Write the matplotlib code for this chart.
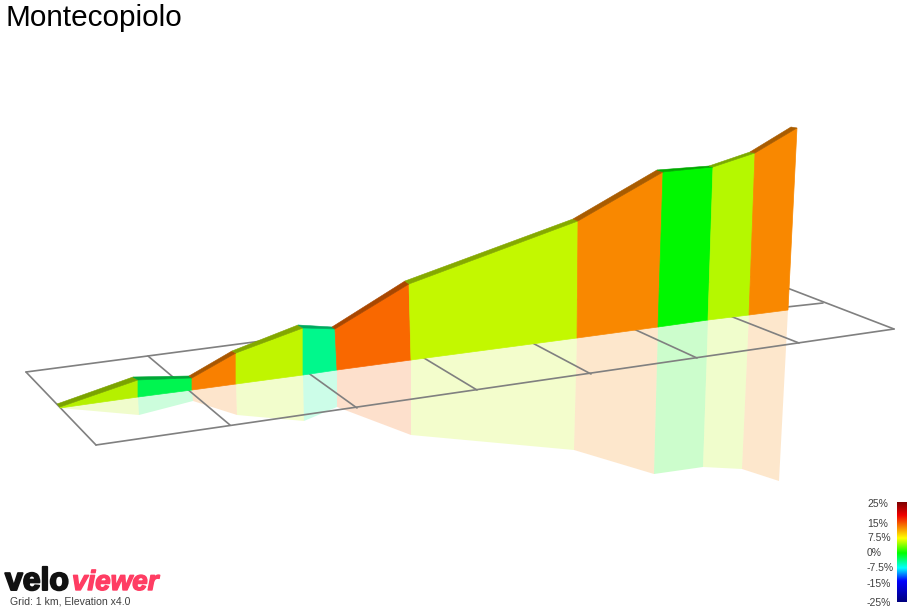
import matplotlib
matplotlib.use("Agg")
import matplotlib.pyplot as plt
import matplotlib.patheffects as pe
from matplotlib.colors import LinearSegmentedColormap, to_rgb
from matplotlib.patches import Polygon
import numpy as np

plt.rcParams['font.family'] = ['Liberation Sans', 'DejaVu Sans']

title = "Montecopiolo"
footer = "Grid: 1 km, Elevation x4.0"

# projected profile, in picture pixels
front_x = [60, 138, 192, 236, 303, 335, 409, 578, 663, 713, 755, 797]
front_y = [407, 380, 378, 353, 328, 329, 284, 221, 172, 167, 153, 128]
back_x = [57, 133, 189, 232, 298, 332, 405, 573, 657, 709, 750, 791]
back_y = [404, 377, 376, 351, 325, 327, 281, 219, 170, 166, 152, 127]
base_x = [60, 138, 192, 236, 303, 337, 411, 577, 658, 708, 749, 788]
base_y = [408, 397, 390, 384, 375, 370, 360, 338, 327, 320, 315, 310]
refl_x = [60, 139, 193, 237, 304, 337, 411, 574, 654, 703, 742, 779]
refl_y = [408, 415, 401, 415, 421, 407, 435, 450, 474, 467, 469, 481]
seg_colors = ['#b5f000', '#00f550', '#f98000', '#c0f500', '#00f88c', '#f96800',
              '#c3f800', '#f98800', '#00f800', '#b5f800', '#f98800']

grid_lines = [
    ((26, 372), (96, 445)),
    ((96, 445), (894, 329)),
    ((26, 372), (756, 276)),
    ((756, 276), (894, 329)),
    ((750, 311), (823, 303)),
    ((148, 356), (230, 425)),
    ((300, 367), (357, 408)),
    ((414, 352), (477, 390)),
    ((525, 339), (591, 374)),
    ((625, 325), (697, 358)),
    ((725, 314), (799, 343)),
]

bar_labels = ['25%', '15%', '7.5%', '0%', '-7.5%', '-15%', '-25%']
bar_label_y = [504, 524, 538, 553, 568, 584, 603]
bar_stops = [0.0, 0.13, 0.36, 0.51, 0.66, 0.79, 1.0]
bar_colors = ['#7d0000', '#f00000', '#ffff00', '#00ff00', '#00ffff', '#0000ff', '#00007d']

fig = plt.figure(figsize=(9.07, 6.07), dpi=100)
ax = fig.add_axes([0, 0, 1, 1])
ax.set_xlim(0, 907)
ax.set_ylim(607, 0)
ax.axis('off')

n = len(seg_colors)
# reflection
for i in range(n):
    ax.add_patch(Polygon([(base_x[i], base_y[i]), (base_x[i+1], base_y[i+1]),
                          (refl_x[i+1], refl_y[i+1]), (refl_x[i], refl_y[i])],
                         closed=True, facecolor=seg_colors[i], edgecolor='none',
                         alpha=0.2, zorder=1))
# grid
for a, b in grid_lines:
    ax.plot([a[0], b[0]], [a[1], b[1]], color='#808080', lw=1.2, zorder=2,
            solid_capstyle='round')
# walls and ridge
for i in range(n):
    c = seg_colors[i]
    ax.add_patch(Polygon([(front_x[i], front_y[i]), (front_x[i+1], front_y[i+1]),
                          (base_x[i+1], base_y[i+1]), (base_x[i], base_y[i])],
                         closed=True, facecolor=c, edgecolor=c, lw=0.5, zorder=3))
    dark = tuple(v * 0.68 for v in to_rgb(c))
    ax.add_patch(Polygon([(back_x[i], back_y[i]), (back_x[i+1], back_y[i+1]),
                          (front_x[i+1], front_y[i+1]), (front_x[i], front_y[i])],
                         closed=True, facecolor=dark, edgecolor=dark, lw=0.4, zorder=4))

# colour bar
cmap = LinearSegmentedColormap.from_list('grade', list(zip(bar_stops, bar_colors)))
ax.imshow(np.linspace(0, 1, 256)[:, None], cmap=cmap, aspect='auto',
          extent=(897, 907, 602, 502), zorder=3)
ax.set_xlim(0, 907)
ax.set_ylim(607, 0)
for lab, y in zip(bar_labels, bar_label_y):
    ax.text(867, y, lab, fontsize=7.5, color='#404040', ha='left', va='center')

ax.text(5, 18, title, fontsize=21.4, color='black', ha='left', va='center')
ax.text(10, 601.5, footer, fontsize=7.6, color='#404040', ha='left', va='center')

# logo wordmark
ax.text(5, 590, "velo", fontsize=23, fontweight='bold', color='#111111',
        ha='left', va='baseline',
        path_effects=[pe.withStroke(linewidth=1.4, foreground='#111111')])
ax.text(72, 590, "viewer", fontsize=20, fontweight='bold', style='italic', color='#ff3d63',
        ha='left', va='baseline',
        path_effects=[pe.withStroke(linewidth=1.0, foreground='#ff3d63')])

fig.savefig("out.png", dpi=100, facecolor='white')
